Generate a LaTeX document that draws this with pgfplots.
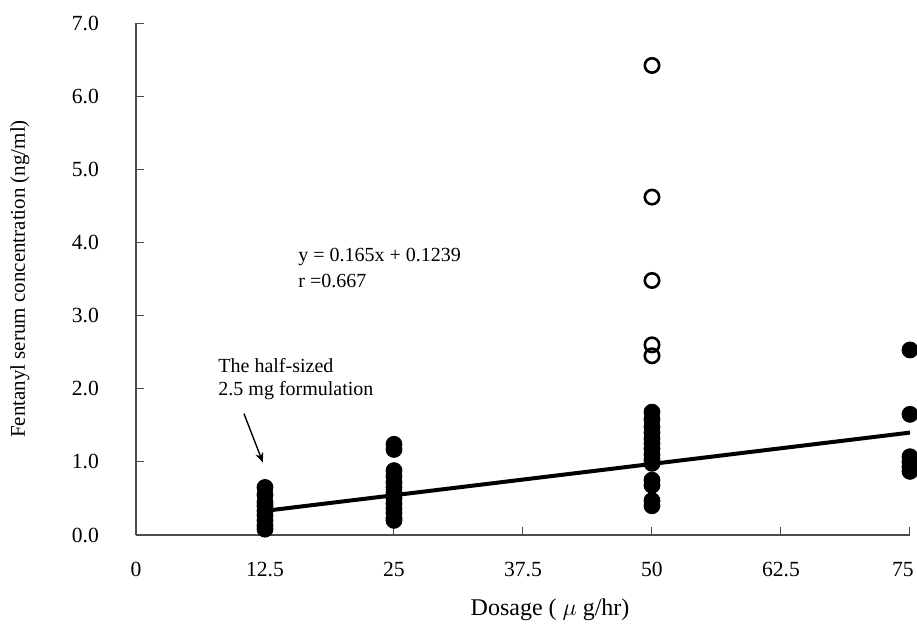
\documentclass[border=0pt]{standalone}
\usepackage{pgfplots}
\pgfplotsset{compat=1.18}
\usepackage{fontspec}
\setmainfont{Liberation Serif}
\usetikzlibrary{arrows.meta}

\pgfplotstableread{
x y
12.5 0.65
12.5 0.55
12.5 0.45
12.5 0.40
12.5 0.33
12.5 0.27
12.5 0.20
12.5 0.13
12.5 0.08
25 1.24
25 1.17
25 0.88
25 0.80
25 0.72
25 0.65
25 0.58
25 0.50
25 0.43
25 0.36
25 0.30
25 0.23
25 0.20
50 1.68
50 1.58
50 1.48
50 1.40
50 1.32
50 1.25
50 1.18
50 1.10
50 1.03
50 0.98
50 0.75
50 0.68
50 0.47
50 0.40
75 2.53
75 1.65
75 1.07
75 1.00
75 0.93
75 0.87
}\filled

\pgfplotstableread{
x y
50 6.42
50 4.62
50 3.48
50 2.60
50 2.45
}\opened

\begin{document}
\begin{tikzpicture}
\clip (-68pt,-52pt) rectangle (390.5pt,267.5pt);
\begin{axis}[
    at={(0,0)}, anchor=south west,
    scale only axis,
    width=387pt, height=256pt,
    xmin=0, xmax=75, ymin=0, ymax=7,
    axis x line*=bottom, axis y line*=left,
    axis line style={black!70, line width=0.6pt, -},
    tick style={black!70, line width=0.5pt},
    tick align=inside,
    major tick length=4pt,
    xtick={0,12.5,25,37.5,50,62.5,75},
    xticklabels={0,12.5,25,37.5,50,62.5,\hspace*{-7pt}75},
    ytick={0,1,...,7},
    /pgf/number format/assume math mode=true,
    yticklabel style={xshift=-15pt, /pgf/number format/fixed, /pgf/number format/fixed zerofill, /pgf/number format/precision=1},
    every tick label/.append style={font=\fontsize{10.8}{12}\selectfont},
    xticklabel style={yshift=-10pt},
    ylabel={Fentanyl serum concentration (ng/ml)},
    ylabel style={font=\fontsize{10.5}{12}\selectfont, at={(axis description cs:-0.15,0.5)}, anchor=center},
    xlabel={Dosage ( $\mu$ g/hr)},
    xlabel style={font=\fontsize{12}{14}\selectfont, at={(axis description cs:0.535,0)}, anchor=center, yshift=-37.5pt},
    clip=false,
]
\addplot[only marks, mark=*, mark size=4pt, black] table {\filled};
\addplot[only marks, mark=o, mark size=3.6pt, black, line width=1.3pt] table {\opened};
\addplot[black, line width=2pt] coordinates {(12.5,0.33) (75,1.40)};
\node[anchor=west, font=\fontsize{10}{12}\selectfont, inner sep=0pt] at (axis cs:15.7,3.8) {y = 0.165x + 0.1239};
\node[anchor=west, font=\fontsize{10}{12}\selectfont, inner sep=0pt] at (axis cs:15.7,3.47) {r =0.667};
\node[anchor=west, font=\fontsize{10}{12}\selectfont, inner sep=0pt] at (axis cs:7.95,2.31) {The half-sized};
\node[anchor=west, font=\fontsize{10}{12}\selectfont, inner sep=0pt] at (axis cs:7.95,1.97) {2.5 mg formulation};
\draw[-{Stealth[length=5pt,width=4pt]}, line width=0.7pt] (axis cs:10.46,1.66) -- (axis cs:12.3,0.99);
\end{axis}
\end{tikzpicture}
\end{document}
